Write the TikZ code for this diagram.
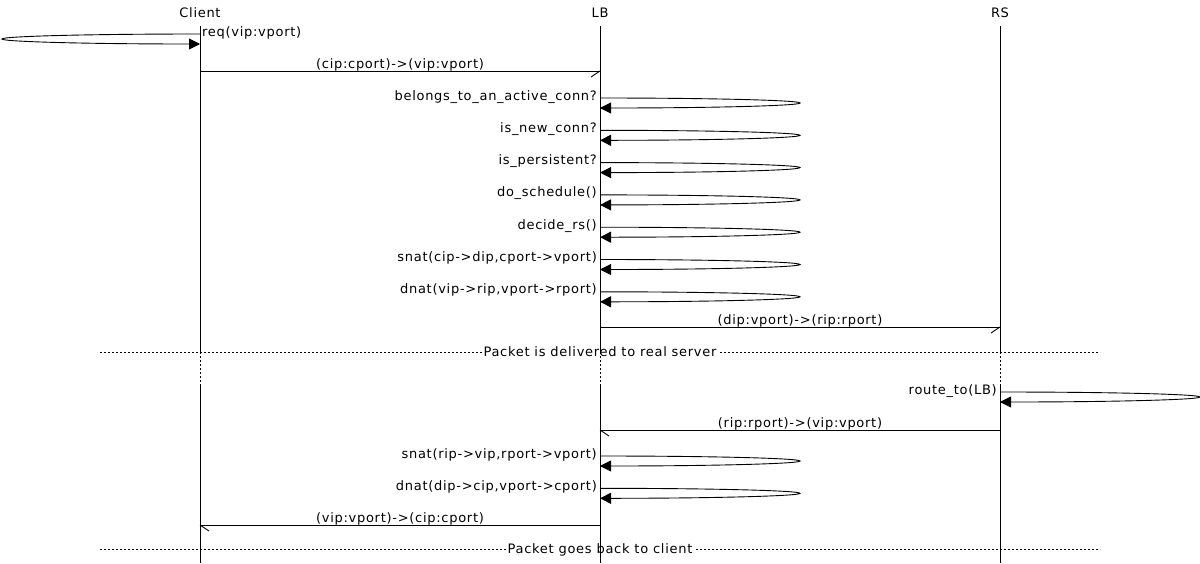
\documentclass[tikz,border=0pt]{standalone}
\usepackage{fontspec}
\setmainfont{DejaVu Sans}[LetterSpace=5.5]
\usetikzlibrary{arrows.meta,calc}
\tikzset{
  lifeline/.style={line width=1pt},
  gapline/.style={line width=1pt, dash pattern=on 2pt off 2pt},
  msg/.style={line width=1pt},
  barb/.style={line width=0.9pt},
  selfline/.style={line width=0.9pt, -{Triangle[length=11pt,width=11pt]}},
  seprule/.style={line width=1pt, dash pattern=on 2pt off 2pt},
  lbl/.style={inner sep=0pt, font=\fontsize{13}{15}\selectfont},
  head/.style={lbl, anchor=base},
  msglbl/.style={lbl, anchor=base},
  leftlbl/.style={lbl, anchor=base east},
  rightlbl/.style={lbl, anchor=base west},
  seplbl/.style={lbl, anchor=base, fill=white, inner xsep=2pt, inner ysep=1pt},
}
\newcommand{\selfarr}[4]{%
  \coordinate (#1a) at (#2,#3);
  \coordinate (#1b) at (#2,#3+10);
  \coordinate (#1t) at (#2+#4,#3+5);
  \draw[selfline] (#1a) .. controls ($(#1a)+(0.552*#4,0)$) and ($(#1t)+(0,-2.76)$) .. (#1t)
     .. controls ($(#1t)+(0,2.76)$) and ($(#1b)+(0.552*#4,0)$) .. (#1b);
}
\begin{document}
\begin{tikzpicture}[x=1pt,y=-1pt]
\useasboundingbox (0,0) rectangle (1200,563);
% heads
\node[head] (client) at (200,17) {Client};
\node[head] (lb) at (600,17) {LB};
\node[head] (rs) at (1000,17) {RS};
% separators
\coordinate (sepAl) at (100,352); \coordinate (sepAr) at (1100,352);
\draw[seprule] (sepAl) -- (sepAr);
\node[seplbl] (sepA) at (600,356.5) {Packet is delivered to real server};
\coordinate (sepBl) at (100,549); \coordinate (sepBr) at (1100,549);
\draw[seprule] (sepBl) -- (sepBr);
\node[seplbl] (sepB) at (600,553.5) {Packet goes back to client};
% lifelines
\foreach \n/\x in {c/200,l/600,r/1000}{
  \coordinate (\n0) at (\x,26);
  \coordinate (\n1) at (\x,352);
  \coordinate (\n2) at (\x,386);
  \coordinate (\n3) at (\x,563);
  \draw[lifeline] (\n0) -- (\n1);
  \draw[gapline] (\n1) -- (\n2);
  \draw[lifeline] (\n2) -- (\n3);
}
% client self
\selfarr{cs}{200}{34}{-198}
\node[rightlbl] (req) at (202,36.5) {req(vip:vport)};
% client -> LB
\coordinate (m1a) at (200,71); \coordinate (m1b) at (600,71);
\draw[msg] (m1a) -- (m1b);
\draw[barb] (m1b) -- ++(-9,6);
\node[msglbl] (m1) at (400,68) {(cip:cport)->(vip:vport)};
% LB self calls
\selfarr{s1}{600}{98}{200}
\node[leftlbl] (l1) at (597,100) {belongs\_to\_an\_active\_conn?};
\selfarr{s2}{600}{130.3}{200}
\node[leftlbl] (l2) at (597,132.3) {is\_new\_conn?};
\selfarr{s3}{600}{162.6}{200}
\node[leftlbl] (l3) at (597,164.6) {is\_persistent?};
\selfarr{s4}{600}{194.9}{200}
\node[leftlbl] (l4) at (597,196.9) {do\_schedule()};
\selfarr{s5}{600}{227.2}{200}
\node[leftlbl] (l5) at (597,229.2) {decide\_rs()};
\selfarr{s6}{600}{259.5}{200}
\node[leftlbl] (l6) at (597,261.5) {snat(cip->dip,cport->vport)};
\selfarr{s7}{600}{291.8}{200}
\node[leftlbl] (l7) at (597,293.8) {dnat(vip->rip,vport->rport)};
% LB -> RS
\coordinate (m2a) at (600,327); \coordinate (m2b) at (1000,327);
\draw[msg] (m2a) -- (m2b);
\draw[barb] (m2b) -- ++(-9,6);
\node[msglbl] (m2) at (800,324) {(dip:vport)->(rip:rport)};
% RS self
\selfarr{rs1}{1000}{392}{200}
\node[leftlbl] (l8) at (997,394.5) {route\_to(LB)};
% RS -> LB
\coordinate (m3a) at (1000,430); \coordinate (m3b) at (600,430);
\draw[msg] (m3a) -- (m3b);
\draw[barb] (m3b) -- ++(9,6);
\node[msglbl] (m3) at (800,427) {(rip:rport)->(vip:vport)};
% LB self
\selfarr{s8}{600}{456}{200}
\node[leftlbl] (l9) at (597,458) {snat(rip->vip,rport->vport)};
\selfarr{s9}{600}{488.3}{200}
\node[leftlbl] (l10) at (597,490.3) {dnat(dip->cip,vport->cport)};
% LB -> Client
\coordinate (m4a) at (600,525); \coordinate (m4b) at (200,525);
\draw[msg] (m4a) -- (m4b);
\draw[barb] (m4b) -- ++(9,6);
\node[msglbl] (m4) at (400,522) {(vip:vport)->(cip:cport)};
\end{tikzpicture}
\end{document}
